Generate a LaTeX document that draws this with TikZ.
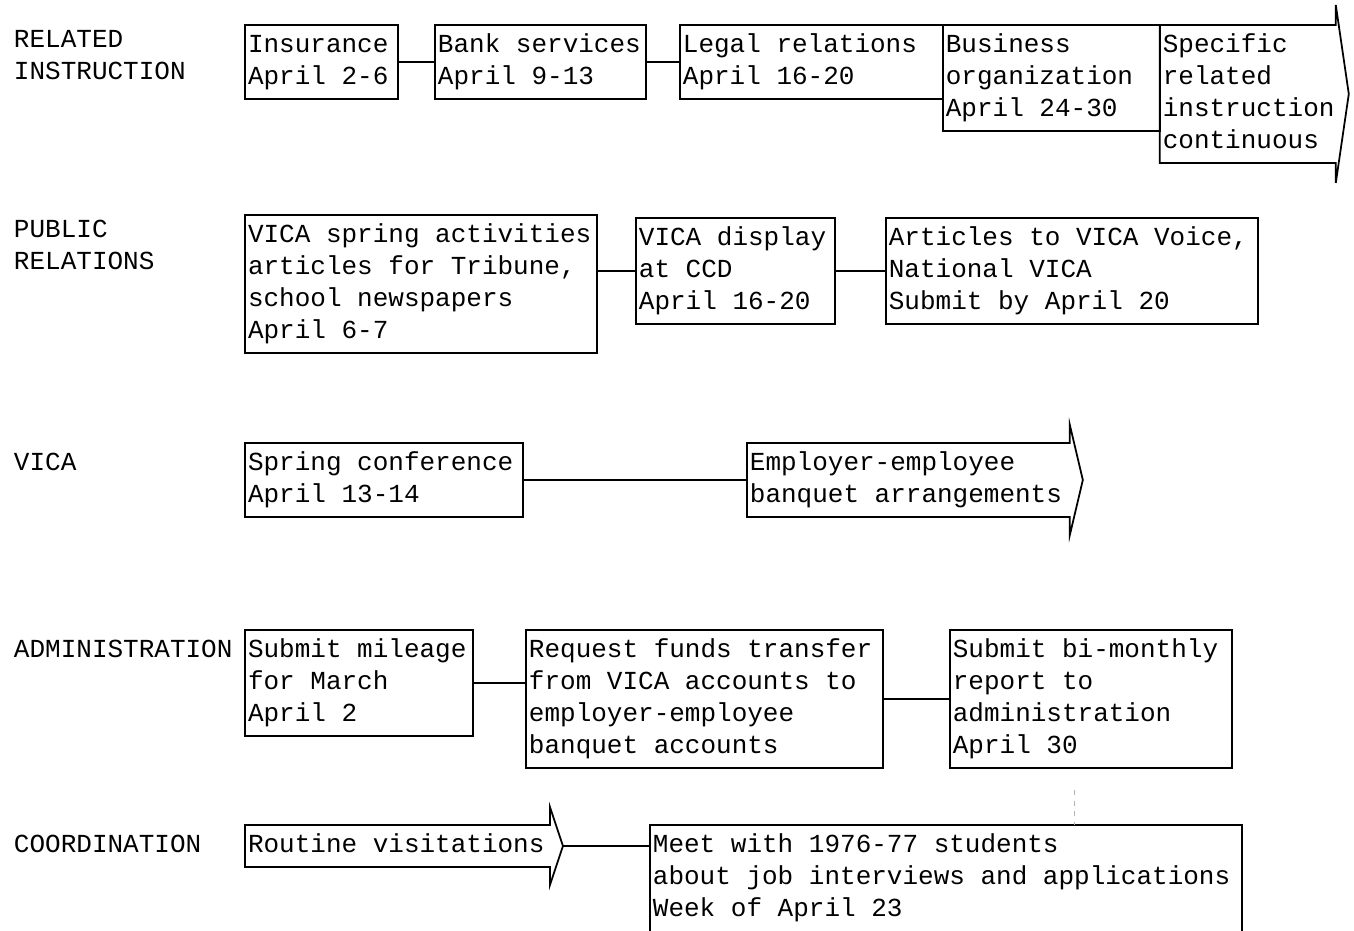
\documentclass[tikz,border=0pt]{standalone}
\usepackage{fontspec}
\newfontfamily\typer{Liberation Mono}
\usetikzlibrary{positioning}

\begin{document}
\begin{tikzpicture}[x=0.02cm, y=-0.02cm,
box/.style={rectangle, draw=black, line width=1pt, anchor=north west, align=left, inner xsep=0.06cm, inner ysep=0.1cm, outer sep=0pt, font=\typer\fontsize{14.8}{18.2}\selectfont, execute at begin node={\spaceskip=\fontdimen2\font\relax\strut}, execute at end node=\strut},
arrowbox/.style={box, draw=none},
openbox/.style={box, draw=none},
rowlabel/.style={box, draw=none},
outline/.style={line width=1pt},
link/.style={line width=1pt},
faint/.style={gray!60, line width=0.5pt, dashed}
]
\path[fill=white] (0,0) rectangle (1354,930);
\useasboundingbox (0,0) rectangle (1354,930);

%Row labels
\node[rowlabel] (lab_ri) at (11,25) {RELATED\\INSTRUCTION};
\node[rowlabel] (lab_pr) at (11,215) {PUBLIC\\RELATIONS};
\node[rowlabel] (lab_vica) at (11,443) {VICA};
\node[rowlabel] (lab_adm) at (11,630) {ADMINISTRATION};
\node[rowlabel] (lab_coord) at (11,825) {COORDINATION};

%Related instruction
\node[box, text width=2.94cm] (ins) at (245,25) {Insurance\\April 2-6};
\node[box, text width=4.1cm] (bank) [right=0.74cm of ins.north east, anchor=north west] {Bank services\\April 9-13};
\node[box, text width=5.14cm] (legal) [right=0.68cm of bank.north east, anchor=north west] {Legal relations\\April 16-20};
\node[box, text width=4.22cm] (bus) [right=0cm of legal.north east, anchor=north west] {Business\\organization\\April 24-30};
\node[arrowbox, text width=3.4cm] (spec) [right=0cm of bus.north east, anchor=north west] {Specific\\related\\instruction\\continuous};

%Public relations
\node[box, text width=6.92cm] (pr_art) at (245,215) {VICA spring activities\\articles for Tribune,\\school newspapers\\April 6-7};
\node[box, text width=3.86cm] (pr_disp) [right=0.78cm of pr_art.north east, anchor=north west, yshift=-0.06cm] {VICA display\\at CCD\\April 16-20};
\node[box, text width=7.32cm] (pr_voice) [right=1.02cm of pr_disp.north east, anchor=north west] {Articles to VICA Voice,\\National VICA\\Submit by April 20};

%VICA
\node[box, text width=5.44cm] (spring) at (245,443) {Spring conference\\April 13-14};
\node[arrowbox, text width=6.34cm] (banquet) [right=4.48cm of spring.north east, anchor=north west] {Employer-employee\\banquet arrangements};

%Administration
\node[box, text width=4.44cm] (mileage) at (245,630) {Submit mileage\\for March\\April 2};
\node[box, text width=7.02cm] (funds) [right=1.06cm of mileage.north east, anchor=north west] {Request funds transfer\\from VICA accounts to\\employer-employee\\banquet accounts};
\node[box, text width=5.52cm] (report) [right=1.34cm of funds.north east, anchor=north west] {Submit bi-monthly\\report to\\administration\\April 30};

%Coordination
\node[arrowbox, text width=5.98cm] (visits) at (245,825) {Routine visitations};
\node[openbox, text width=11.72cm] (meet) [right=2cm of visits.north east, anchor=north west] {Meet with 1976-77 students\\about job interviews and applications\\Week of April 23};

%Arrow heads
\coordinate (spec_tip) at ([xshift=0.26cm]spec.east);
\coordinate (banquet_tip) at ([xshift=0.26cm]banquet.east);
\coordinate (visits_tip) at ([xshift=0.26cm]visits.east);
\draw[outline] (spec.north east) -- (spec.north west) -- (spec.south west) -- (spec.south east) -- ([yshift=-0.4cm]spec.south east) -- (spec_tip) -- ([yshift=0.4cm]spec.north east) -- cycle;
\draw[outline] (banquet.north east) -- (banquet.north west) -- (banquet.south west) -- (banquet.south east) -- ([yshift=-0.36cm]banquet.south east) -- (banquet_tip) -- ([yshift=0.36cm]banquet.north east) -- cycle;
\draw[outline] (visits.north east) -- (visits.north west) -- (visits.south west) -- (visits.south east) -- ([yshift=-0.36cm]visits.south east) -- (visits_tip) -- ([yshift=0.36cm]visits.north east) -- cycle;
\draw[outline] (meet.south west) -- (meet.north west) -- (meet.north east) -- (meet.south east);

%Connections
\draw[link] (ins.east) -- (bank.west);
\draw[link] (bank.east) -- (bank.east -| legal.west);
\draw[link] (pr_art.east |- pr_disp.west) -- (pr_disp.west);
\draw[link] (pr_disp.east) -- (pr_disp.east -| pr_voice.west);
\draw[link] (spring.east) -- (spring.east -| banquet.west);
\draw[link] (mileage.east) -- (mileage.east -| funds.west);
\draw[link] (funds.east) -- (funds.east -| report.west);
\draw[link] (visits_tip) -- (visits_tip -| meet.west);

\coordinate (trace) at (1074,790);
\draw[faint] (trace) -- (trace |- meet.north);
\end{tikzpicture}
\end{document}
